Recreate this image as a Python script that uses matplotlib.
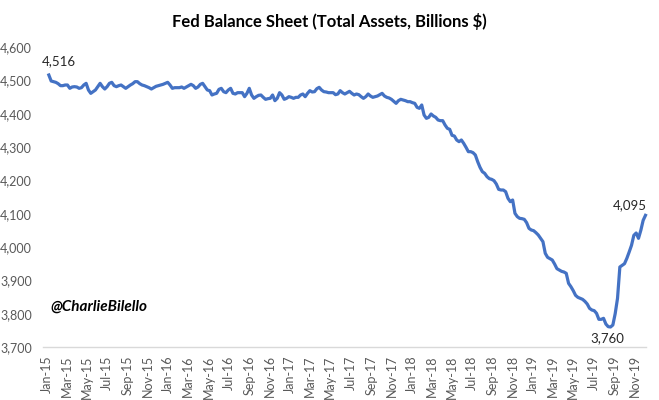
import matplotlib.pyplot as plt
import matplotlib.dates as mdates
import matplotlib.ticker as mticker
import pandas as pd
import numpy as np

# weekly total assets (billions $), Wednesdays
vals_2015 = [4516, 4498, 4496, 4494, 4490, 4484, 4484, 4486, 4486, 4476,
             4480, 4481, 4480, 4476, 4478, 4486, 4491, 4471, 4461, 4466,
             4471, 4481, 4491, 4481, 4474, 4481, 4491, 4494, 4484, 4481,
             4484, 4486, 4481, 4476, 4481, 4486, 4490, 4496, 4496, 4490,
             4486, 4484, 4481, 4478, 4474, 4478, 4482, 4484, 4486, 4488,
             4491, 4494]
vals_2016 = [4486, 4476, 4478, 4478, 4478, 4480, 4476, 4480,
             4484, 4488, 4484, 4476, 4480, 4488, 4491, 4481, 4471,
             4469, 4456, 4459, 4461, 4473, 4476, 4466, 4463, 4471, 4476,
             4461, 4459, 4463, 4463, 4463, 4451, 4461, 4476, 4456, 4446,
             4451, 4455, 4456, 4449, 4443, 4445, 4446, 4456, 4439, 4446,
             4463, 4456, 4443, 4446, 4451]
vals_2017 = [4449, 4446, 4449, 4449, 4456,
             4459, 4451, 4461, 4469, 4465, 4466, 4475, 4479, 4471, 4466,
             4465, 4463, 4463, 4463, 4457, 4459, 4469, 4463, 4459, 4463,
             4467, 4461, 4456, 4459, 4457, 4451, 4446, 4451, 4459, 4453,
             4449, 4451, 4453, 4457, 4461, 4453, 4449, 4447, 4443, 4437,
             4431, 4439, 4443, 4441, 4439, 4436, 4436]
vals_2018 = [4433, 4431, 4419, 4416, 4426, 4396, 4386, 4389, 4399,
             4393, 4389, 4381, 4379, 4379, 4366, 4356, 4353, 4335, 4333,
             4321, 4316, 4321, 4311, 4299, 4286, 4286, 4283, 4276, 4256,
             4239, 4226, 4221, 4211, 4205, 4203, 4199, 4189, 4173, 4171,
             4171, 4166, 4146, 4136, 4141, 4101, 4091, 4086, 4085, 4083,
             4073, 4056, 4051]
vals_2019 = [4049, 4043, 4036, 4026, 4016, 3981, 3969, 3965, 3961,
             3949, 3935, 3931, 3927, 3925, 3921, 3891, 3881, 3869, 3855,
             3849, 3846, 3843, 3837, 3829, 3816, 3811, 3809, 3801, 3783,
             3783, 3786, 3769, 3761, 3760, 3766, 3800, 3846, 3940, 3945,
             3950, 3966, 3985, 4005, 4035, 4042, 4026, 4050, 4080, 4095]

values = vals_2015 + vals_2016 + vals_2017 + vals_2018 + vals_2019
dates = pd.date_range("2015-01-07", periods=len(values), freq="7D")

blue = "#4472C4"
grey = "#595959"
font = "Lato"

fig = plt.figure(figsize=(6.59, 4.0), dpi=100)
ax = fig.add_axes([0.065, 0.1325, 0.915, 0.75])

ax.plot(dates, values, color=blue, lw=2.3, solid_joinstyle="round",
        clip_on=False)

ax.set_ylim(3700, 4600)
ax.set_yticks(np.arange(3700, 4601, 100))
ax.yaxis.set_major_formatter(mticker.FuncFormatter(lambda v, p: f"{v:,.0f}"))
ax.set_xlim(pd.Timestamp("2014-12-20"), dates[-1] + pd.Timedelta(days=1))
ax.xaxis.set_major_locator(mdates.MonthLocator(bymonth=[1, 3, 5, 7, 9, 11]))
ax.xaxis.set_major_formatter(mdates.DateFormatter("%b-%y"))

for s in ["top", "right", "left"]:
    ax.spines[s].set_visible(False)
ax.spines["bottom"].set_color("#D9D9D9")
ax.spines["bottom"].set_linewidth(1.0)
ax.tick_params(length=0, labelcolor=grey, labelsize=9)
ax.tick_params(axis="x", rotation=90, pad=6)
ax.tick_params(axis="y", pad=8)
for lab in ax.get_xticklabels() + ax.get_yticklabels():
    lab.set_fontfamily(font)

# data labels
imin = int(np.argmin(values))
ax.annotate(f"{values[0]:,}", (dates[0], values[0]), xytext=(7, 6),
            textcoords="offset points", ha="center", va="bottom",
            fontsize=9.5, family=font, color="#262626")
ax.annotate(f"{values[imin]:,}", (dates[imin], values[imin]), xytext=(-2, -4),
            textcoords="offset points", ha="center", va="top",
            fontsize=9.5, family=font, color="#262626")
ax.annotate(f"{values[-1]:,}", (dates[-1], values[-1]), xytext=(1, 3),
            textcoords="offset points", ha="right", va="bottom",
            fontsize=9.5, family=font, color="#262626")

ax.text(0.012, 0.12, "@CharlieBilello", transform=ax.transAxes,
        fontsize=11, family=font, weight="bold", style="italic", color="black")

fig.text(0.5, 0.945, "Fed Balance Sheet (Total Assets, Billions $)",
         ha="center", va="center", fontsize=12, family=font, weight="bold")

fig.savefig("out.png", dpi=100)
